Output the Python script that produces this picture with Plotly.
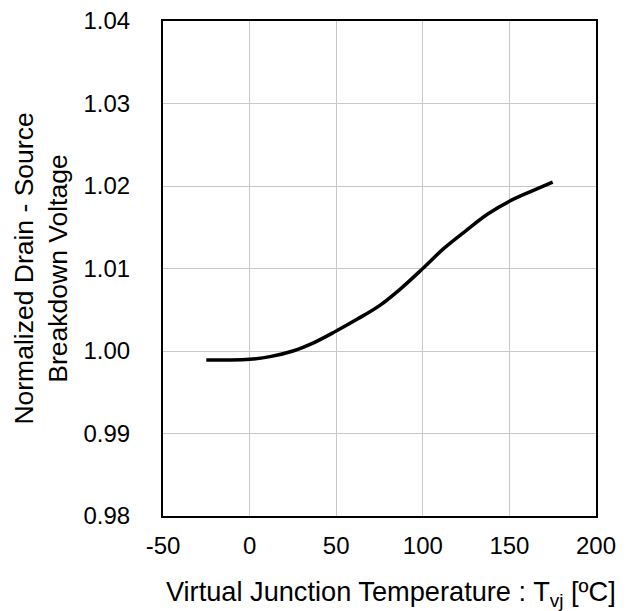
import plotly.graph_objects as go

temp_c = [-25, -12.5, 0, 12.5, 25, 37.5, 50, 62.5, 75, 87.5, 100, 112.5, 125, 137.5, 150, 162.5, 175]
norm_bvdss = [0.99891, 0.99890, 0.99899, 0.99935, 1.0000, 1.00105, 1.00242, 1.0039, 1.00550,
              1.00760, 1.0100, 1.01250, 1.01460, 1.01660, 1.01815, 1.01935, 1.02048]

x_ticks = [-50, 0, 50, 100, 150, 200]
x_tick_text = ["-50", "0", "50", "100", "150", "200"]
y_ticks = [0.98, 0.99, 1.00, 1.01, 1.02, 1.03, 1.04]
y_tick_text = ["0.98", "0.99", "1.00", "1.01", "1.02", "1.03", "1.04"]

fig = go.Figure()
fig.add_trace(go.Scatter(x=temp_c, y=norm_bvdss, mode="lines",
                         line=dict(color="black", width=3.5, shape="spline", smoothing=1.0),
                         showlegend=False, hoverinfo="skip"))

font = dict(family="Liberation Sans, Arial, sans-serif", size=24, color="black")

fig.update_layout(
    width=621, height=603,
    margin=dict(l=155, r=33, t=13, b=95, autoexpand=False),
    paper_bgcolor="white", plot_bgcolor="white",
    font=font,
    xaxis=dict(range=[-50, 200], tickvals=x_ticks, ticktext=x_tick_text, showgrid=True,
               gridcolor="#c8c8c8", gridwidth=1.2, automargin=False,
               showline=True, linecolor="black", linewidth=2, mirror=True, zeroline=False,
               ticks="", ticklabelstandoff=7, tickfont=dict(size=24), ticklabeloverflow="allow",
               title=dict(text="&nbsp;&nbsp;&nbsp;Virtual Junction Temperature : T<sub>vj</sub> [ºC]",
                          standoff=27, font=dict(size=27.2))),
    yaxis=dict(range=[0.98, 1.04], tickvals=y_ticks, ticktext=y_tick_text, showgrid=True,
               gridcolor="#c8c8c8", gridwidth=1.2, automargin=False,
               showline=True, linecolor="black", linewidth=2, mirror=True, zeroline=False,
               ticks="", ticklabelstandoff=26, tickfont=dict(size=24), ticklabeloverflow="allow",
               title=dict(text="Normalized Drain - Source<br>Breakdown Voltage", standoff=8,
                          font=dict(size=26.5))),
)

fig.write_html("out.html")
